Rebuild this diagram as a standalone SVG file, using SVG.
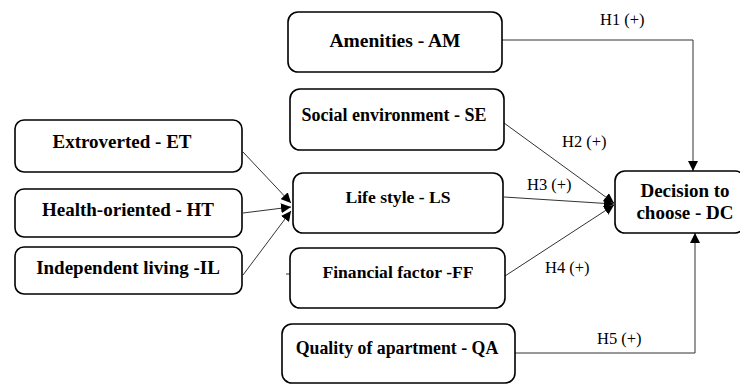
<svg xmlns="http://www.w3.org/2000/svg" width="740" height="385" viewBox="0 0 740 385">
<defs>
<marker id="ah" viewBox="0 0 10 10" refX="10" refY="5" markerWidth="10" markerHeight="10" markerUnits="userSpaceOnUse" orient="auto">
<path d="M0,0 L10,5 L0,10 z" fill="#000"/>
</marker>
</defs>
<rect width="740" height="385" fill="#fff"/>
<g id="connectors" fill="none" stroke="#333" stroke-width="1">
<line x1="243" y1="152" x2="291" y2="203" marker-end="url(#ah)"/>
<line x1="243" y1="213" x2="291" y2="207" marker-end="url(#ah)"/>
<line x1="243" y1="275" x2="291" y2="211" marker-end="url(#ah)"/>
<polyline points="502,40 693,40 693,171" marker-end="url(#ah)"/>
<line x1="504" y1="123" x2="614" y2="203" marker-end="url(#ah)"/>
<line x1="504" y1="197" x2="614" y2="204" marker-end="url(#ah)"/>
<line x1="505" y1="276" x2="614" y2="205" marker-end="url(#ah)"/>
<polyline points="505,353 695,353 695,233" marker-end="url(#ah)"/>
<line x1="286" y1="274" x2="290" y2="274"/>
<g font-family="Liberation Serif, Times New Roman, DejaVu Serif, serif" font-size="16.5" fill="#000" stroke="none">
<text x="600" y="25">H1 (+)</text>
<text x="562" y="147">H2 (+)</text>
<text x="527" y="190">H3 (+)</text>
<text x="545" y="273">H4 (+)</text>
<text x="597" y="344">H5 (+)</text>
</g>
</g>
<g font-family="Liberation Serif, Times New Roman, DejaVu Serif, serif" font-weight="bold" font-size="19" text-anchor="middle" fill="#000">
<g id="ET"><rect fill="#fff" stroke="#000" stroke-width="1.6" x="15" y="120" width="227" height="52" rx="9"/><text x="122" y="148">Extroverted - ET</text></g>
<g id="HT"><rect fill="#fff" stroke="#000" stroke-width="1.6" x="15" y="189" width="227" height="48" rx="9"/><text x="128" y="216">Health-oriented - HT</text></g>
<g id="IL"><rect fill="#fff" stroke="#000" stroke-width="1.6" x="15" y="247" width="227" height="47" rx="9"/><text x="128" y="274">Independent living -IL</text></g>
<g id="AM"><rect fill="#fff" stroke="#000" stroke-width="1.6" x="288" y="12" width="214" height="60" rx="10"/><text x="395" y="47" font-size="19.5">Amenities - AM</text></g>
<g id="SE"><rect fill="#fff" stroke="#000" stroke-width="1.6" x="290" y="89" width="214" height="61" rx="10"/><text x="394" y="121" font-size="18">Social environment - SE</text></g>
<g id="LS"><rect fill="#fff" stroke="#000" stroke-width="1.6" x="293" y="173" width="210" height="60" rx="10"/><text x="398" y="203" font-size="17.6">Life style - LS</text></g>
<g id="FF"><rect fill="#fff" stroke="#000" stroke-width="1.6" x="290" y="248" width="215" height="60" rx="10"/><text x="398" y="278" font-size="17.6">Financial factor -FF</text></g>
<g id="QA"><rect fill="#fff" stroke="#000" stroke-width="1.6" x="282" y="324" width="233" height="59" rx="10"/><text x="397" y="354" font-size="17.8">Quality of apartment - QA</text></g>
<g id="DC"><rect fill="#fff" stroke="#000" stroke-width="1.6" x="615" y="171" width="130" height="62" rx="10"/><text x="685" y="197">Decision to</text><text x="685" y="219">choose - DC</text></g>
</g>
</svg>
